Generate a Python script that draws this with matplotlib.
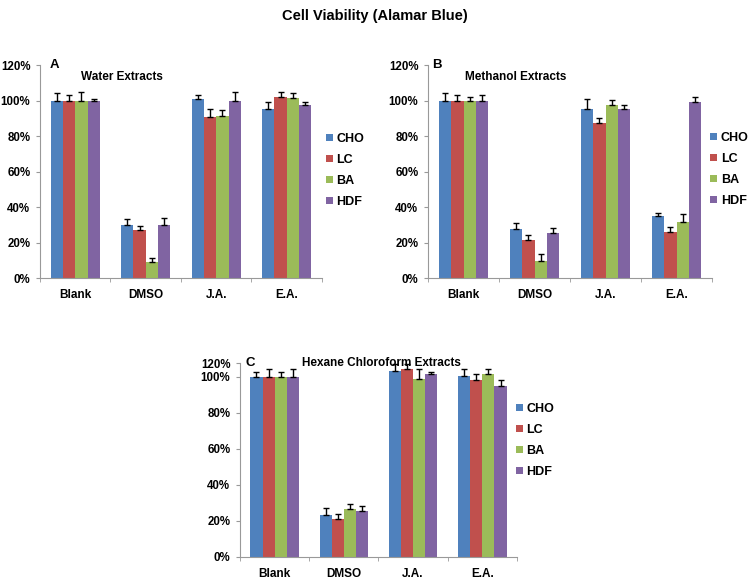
import numpy as np
import matplotlib
matplotlib.use("Agg")
import matplotlib.pyplot as plt

plt.rcParams["font.family"] = ["Liberation Sans", "DejaVu Sans"]
plt.rcParams["font.weight"] = "bold"

categories = ["Blank", "DMSO", "J.A.", "E.A."]
cell_lines = ["CHO", "LC", "BA", "HDF"]
colors = ["#4F81BD", "#C0504D", "#9BBB59", "#8064A2"]

# Werte je Zelllinie (Reihenfolge wie categories), Prozent
water_vals = {
    "CHO": [100, 30, 101, 95],
    "LC": [100, 27, 90.5, 102],
    "BA": [100, 9, 91.5, 101.5],
    "HDF": [100, 30, 100, 97.5],
}
water_err = {
    "CHO": [4, 3.5, 2, 4],
    "LC": [3, 2.5, 5, 3],
    "BA": [5, 2.5, 3, 3],
    "HDF": [1, 4, 5, 1.7],
}

methanol_vals = {
    "CHO": [100, 27.5, 95.5, 35],
    "LC": [100, 21.7, 87.5, 25.8],
    "BA": [100, 9.5, 97.8, 31.6],
    "HDF": [100, 25.4, 95, 99.4],
}
methanol_err = {
    "CHO": [4, 3.5, 5.5, 1.6],
    "LC": [3.4, 2.8, 2.8, 3],
    "BA": [2, 4, 2.4, 4.7],
    "HDF": [3, 2.8, 2.6, 2.6],
}

hexane_vals = {
    "CHO": [99.6, 23.5, 103, 100.2],
    "LC": [100, 21, 104.3, 98],
    "BA": [99.6, 26.5, 98.9, 101.5],
    "HDF": [100, 25.5, 101.5, 94.6],
}
hexane_err = {
    "CHO": [3.2, 3.4, 3.8, 3.8],
    "LC": [4.4, 3, 2.6, 3.3],
    "BA": [3.2, 3, 5.5, 2.8],
    "HDF": [4.4, 2.6, 1, 3.4],
}

ytick_labels = ["0%", "20%", "40%", "60%", "80%", "100%", "120%"]


def draw_panel(ax, vals, errs, letter, subtitle, sub_xy, leg_y, ytop=120):
    X = np.arange(len(categories))
    width = 0.175
    for i, cl in enumerate(cell_lines):
        pos = X + (i - 1.5) * width
        err = np.array(errs[cl])
        ax.bar(pos, vals[cl], width=width, color=colors[i], label=cl,
               yerr=[np.zeros_like(err), err], capsize=2.5,
               error_kw=dict(ecolor="black", elinewidth=1, capthick=1))
    ax.set_xlim(-0.5, len(categories) - 0.5)
    ax.set_ylim(0, ytop)
    # im Original ist Panel C oben gestaucht: Label "120%" sitzt am Achsenende
    ticks = [0, 20, 40, 60, 80, 100, ytop]
    ax.set_yticks(ticks)
    ax.set_yticklabels(ytick_labels, fontsize=8.3, fontweight="bold")
    ax.set_xticks(X)
    ax.set_xticklabels(categories, fontsize=8.5, fontweight="bold")
    ax.set_xticks(np.arange(-0.5, len(categories)), minor=True)
    ax.tick_params(axis="x", which="major", length=0, pad=8)
    ax.tick_params(axis="x", which="minor", length=3, color="#999999")
    ax.tick_params(axis="y", length=3, color="#999999", pad=4)
    for s in ["top", "right"]:
        ax.spines[s].set_visible(False)
    for s in ["left", "bottom"]:
        ax.spines[s].set_color("#999999")
    ax.text(letter[1], 1.0, letter[0], transform=ax.transAxes, fontsize=9.5,
            fontweight="bold", va="center")
    ax.text(sub_xy[0], sub_xy[1], subtitle, transform=ax.transAxes,
            fontsize=8.5, fontweight="bold", va="center", ha="center")
    ax.legend(loc="center left", bbox_to_anchor=(leg_y[0], leg_y[1]),
              frameon=False, borderpad=0, borderaxespad=0,
              prop={"weight": "bold", "size": 9}, handlelength=0.55,
              handleheight=0.55, handletextpad=0.3, labelspacing=0.72)


fig = plt.figure(figsize=(7.5, 5.86), dpi=100)
fig.text(0.5, 0.972, "Cell Viability (Alamar Blue)", ha="center", va="center",
         fontsize=10.5, fontweight="bold")

axA = fig.add_axes([0.0533, 0.525, 0.376, 0.364])
draw_panel(axA, water_vals, water_err, ("A", 0.035), "Water Extracts",
           (0.29, 0.944), (1.014, 0.505))

axB = fig.add_axes([0.5707, 0.525, 0.3787, 0.364])
draw_panel(axB, methanol_vals, methanol_err, ("B", 0.015), "Methanol Extracts",
           (0.31, 0.945), (0.993, 0.51))

axC = fig.add_axes([0.32, 0.0495, 0.3693, 0.331])
draw_panel(axC, hexane_vals, hexane_err, ("C", 0.02),
           "Hexane Chloroform Extracts", (0.51, 1.0), (0.996, 0.6), ytop=107.5)

fig.savefig("out.png", dpi=100)
